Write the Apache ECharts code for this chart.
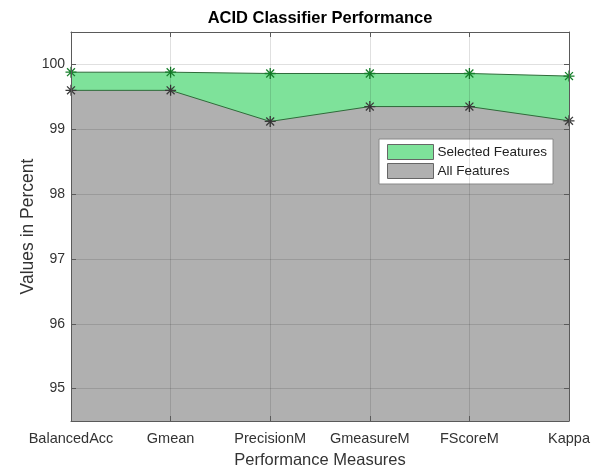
<!DOCTYPE html>
<html><head><meta charset="utf-8">
<script src="https://cdn.jsdelivr.net/npm/echarts@6/dist/echarts.min.js"></script>
<style>html,body{margin:0;padding:0;background:#fff}#c{width:599px;height:470px}</style>
</head><body><div id="c"></div>
<script>
var categories = ['BalancedAcc','Gmean','PrecisionM','GmeasureM','FScoreM','Kappa'];
var selectedFeatures = [99.88, 99.88, 99.86, 99.86, 99.86, 99.82];
var allFeatures = [99.60, 99.60, 99.12, 99.35, 99.35, 99.13];
var yTicks = [95, 96, 97, 98, 99, 100];

var star = 'path://M0,-1L0,1M-1,0L1,0M-0.72,-0.72L0.72,0.72M-0.72,0.72L0.72,-0.72';
var font = 'Liberation Sans, Arial, sans-serif';
var axisCol = '#5a5a5a';
var chart = echarts.init(document.getElementById('c'));
chart.setOption({
  animation: false,
  backgroundColor: '#fff',
  title: {text: 'ACID Classifier Performance', left: 315, top: 5, textAlign: 'center',
    textStyle: {fontFamily: font, fontSize: 16.5, fontWeight: 'bold', color: '#000'}},
  grid: {left: 71, right: 30, top: 32, bottom: 49, outerBoundsMode: 'none', containLabel: false},
  legend: {
    orient: 'vertical', left: 379, top: 139,
    padding: [5, 6, 5, 8], itemGap: 3, itemWidth: 46, itemHeight: 15,
    backgroundColor: '#fff', borderColor: '#888', borderWidth: 1, borderRadius: 0,
    textStyle: {fontFamily: font, fontSize: 13.5, color: '#222', padding: [0, 0, 0, -1]},
    data: [
      {name: 'Selected Features', icon: 'rect', itemStyle: {color: '#7ee29a', borderColor: '#666', borderWidth: 1}},
      {name: 'All Features', icon: 'rect', itemStyle: {color: '#b0b0b0', borderColor: '#666', borderWidth: 1}}
    ]
  },
  xAxis: [{
    type: 'category', data: categories, boundaryGap: false, z: 5,
    name: 'Performance Measures', nameLocation: 'middle', nameGap: 31, nameMoveOverlap: false,
    nameTextStyle: {fontFamily: font, fontSize: 16.5, color: '#333'},
    axisLine: {lineStyle: {color: axisCol, width: 1}},
    axisTick: {inside: true, length: 5, interval: 0, lineStyle: {color: axisCol}},
    axisLabel: {fontFamily: font, fontSize: 14.5, color: '#333', margin: 10, interval: 0, hideOverlap: false},
    splitLine: {show: true, interval: 0, lineStyle: {color: 'rgba(0,0,0,0.12)', width: 1}}
  }, {
    type: 'category', data: categories, boundaryGap: false, position: 'top', z: 5,
    axisLine: {lineStyle: {color: axisCol, width: 1}},
    axisTick: {inside: true, length: 5, interval: 0, lineStyle: {color: axisCol}},
    axisLabel: {show: false}, splitLine: {show: false}
  }],
  yAxis: [{
    type: 'value', min: 94.5, max: 100.5, z: 5,
    name: 'Values in Percent', nameLocation: 'middle', nameGap: 34, nameMoveOverlap: false,
    nameTextStyle: {fontFamily: font, fontSize: 17.5, color: '#333'},
    axisLine: {show: true, lineStyle: {color: axisCol, width: 1}},
    axisTick: {show: true, inside: true, length: 5, customValues: yTicks, lineStyle: {color: axisCol}},
    axisLabel: {fontFamily: font, fontSize: 14, color: '#333', margin: 6, customValues: yTicks},
    splitLine: {show: true, lineStyle: {color: 'rgba(0,0,0,0.12)', width: 1}}
  }, {
    type: 'value', min: 94.5, max: 100.5, position: 'right', z: 5,
    axisLine: {show: true, lineStyle: {color: axisCol, width: 1}},
    axisTick: {show: true, inside: true, length: 5, customValues: yTicks, lineStyle: {color: axisCol}},
    axisLabel: {show: false}, splitLine: {show: false}
  }],
  series: [{
    name: 'Selected Features', type: 'line', data: selectedFeatures,
    symbol: star, symbolSize: 11, showAllSymbol: true,
    lineStyle: {color: '#2f6b3a', width: 1},
    itemStyle: {color: 'none', borderColor: '#17802c', borderWidth: 1.3},
    areaStyle: {color: '#7ee29a', opacity: 1, origin: 'start'}, z: 2
  }, {
    name: 'All Features', type: 'line', data: allFeatures,
    symbol: star, symbolSize: 11, showAllSymbol: true,
    lineStyle: {color: '#2f6b3a', width: 1},
    itemStyle: {color: 'none', borderColor: '#3a3a3a', borderWidth: 1.3},
    areaStyle: {color: '#b0b0b0', opacity: 1, origin: 'start'}, z: 3
  }]
});
</script></body></html>
